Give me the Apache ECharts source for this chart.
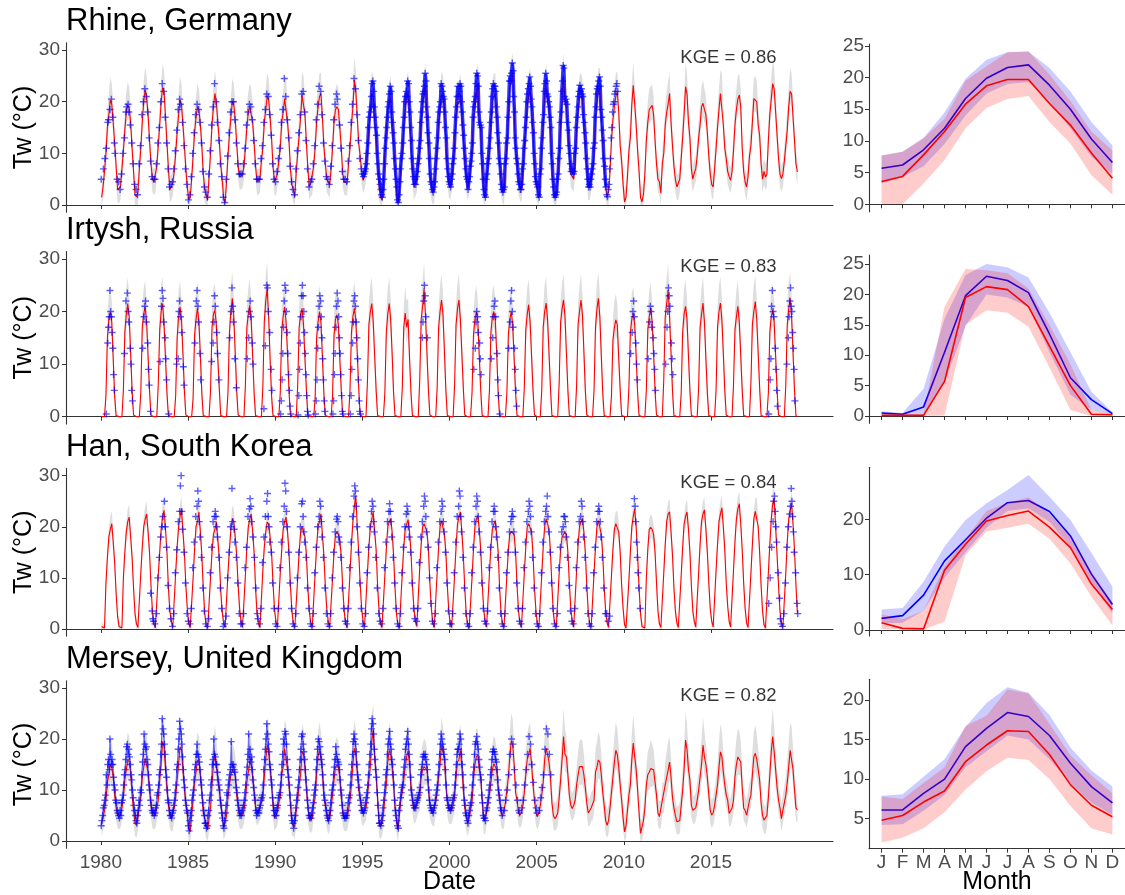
<!DOCTYPE html>
<html><head><meta charset="utf-8">
<script src="https://cdn.jsdelivr.net/npm/echarts@6/dist/echarts.min.js"></script>
<style>html,body{margin:0;padding:0;background:#fff}#c{width:1125px;height:895px}</style>
</head><body><div id="c"></div>
<script>
const startYear = 1980;
const yearTicks = [1980,1985,1990,1995,2000,2005,2010,2015];
const monthLetters = ['J','F','M','A','M','J','J','A','S','O','N','D'];
const rivers = ['Rhine, Germany','Irtysh, Russia','Han, South Korea','Mersey, United Kingdom'];
const kge = ['KGE = 0.86','KGE = 0.83','KGE = 0.84','KGE = 0.82'];

// ---- monthly simulated water temperature (red line), one row per year 1980..2019 ----
const rhineSim = [
[1.5,3.5,6.5,10,15,17.5,20.3,19.5,16,12,7.5,3],[2.9,3.5,7,10.5,14.5,18,19.4,18.8,16,11,6.5,2],
[1.6,2.5,7,11,16,20,22.3,21,17.5,12.5,8,5],[4.5,4.8,7.5,11.5,15.5,20,22.8,22,17,12,7,3],
[3.5,4.3,6.5,10,14,17.5,20.3,19.5,15.5,11.5,7,3.5],[1,1.5,5,9.5,14,17,19,18.5,15.5,11.5,6,3],
[2,1,5.5,10,15.5,19,21.6,20,16,12.5,8,5],[1.5,0.3,4.5,9.5,13.5,17,20,19.5,16.5,12,7.5,5.5],
[5.5,5.8,7.5,11,15,18,19,18.8,16,12,7.5,4.5],[4.5,5,8.5,11,16,18.5,21,20.5,17,13,7.5,4.5],
[4.2,6,8.5,11,16,18,20.6,20.5,16,12.5,7,4],[3,1.6,6.5,10,13.5,17,21.3,21,17.5,12,7,3.5],
[4.2,4.5,7.5,11,16,19,21,21.6,17,11.5,8,5],[4.5,3.9,7,11,16,18.5,19,18.5,15,11,6,4.5],
[4.5,4.2,8,11,15.5,19,24.2,22,17,12,9.5,6.5],[4.8,5.5,7,10.5,15,17.5,21.5,21,16,13.5,8,3.5],
[1.5,1,4.5,10,14,18.5,19.5,21,15,12,7,2.5],[0.3,3,7,10,15,19,20,22,17,11.5,7,3.5],
[4.2,5,7.5,11,16.5,20,21,23.5,16.5,11.5,6,3.5],[2.3,3,7,11,16,18,21.5,21,19,12.5,7,4],
[3.5,5,7.5,12,17,20,19.5,21.5,17.5,13,8.5,5],[3.5,4.5,7,10,16.5,18.5,21.5,23.5,15.5,14.5,7.5,2.9],
[1.6,5,7.5,11,15.5,20,21,21.5,17,11.5,8,4.5],[2.9,2.5,7.5,11.5,17,23,23.5,25.5,18,10.5,8,4.5],
[3.5,2.9,6.5,11,15,19,21,22.5,18.5,14,7.5,4],[3,1.6,5.5,11,15.5,21,23,20,18.5,14.5,7.5,3],
[1.6,2,5,9.5,15,20.5,25,19.5,19,14.5,10,6],[5.5,5,8.5,14.5,18,21,21.2,20.5,15.5,11.5,7,3.5],
[3.5,5,6.5,10,16.5,20,22,22.5,16.5,12,7.5,3.5],[1.6,2.5,6.5,12.5,16.5,19,21,21.9,18,11.5,8.5,4],
[0.6,1.5,5.5,10.5,13,19.5,23.2,19.5,15.5,10.5,6.5,1.5],[0.6,2,6,12.5,16,18.5,18.5,19.3,17.5,12.5,8,5],
[4.5,2.3,8,10,15.5,18,19.5,21.6,16,11.5,7.5,5],[3.5,3.5,5,9,13,17.5,22.9,21.5,16,13,7,5],
[6.2,7,9.5,13,15.5,19,19.7,18.5,17.5,14,9.5,6],[4,3.5,7,11,15,18.5,21.6,21.5,15.5,11,9,6.5],
[5.5,4.8,6.5,10.5,15.5,18.5,20.5,21.3,19,11,6.5,4.5],[3.5,5.5,9.5,11.5,16,20.6,20.5,20,15.5,13.5,8,5],
[6.5,5.4,6,12.5,17.5,20.5,23.5,22.5,18,13.5,9,6],[5.1,6,8.5,11.5,14.5,19,22,21.5,17,12.5,8,6.4]
];
const irtyshSim = [
[0,0,0,4,15,18.5,20,18,11,4,0.2,0],[0,0,0,5,16,19.5,21.5,19,12,5,0.3,0],
[0,0,0,4.5,17,19.5,20.9,18,11.5,5,0.2,0],[0,0,0,6,16.5,20,21.5,17.5,11,4.5,0.2,0],
[0,0,0,4,15,19,20.9,18.5,12,5,0.3,0],[0,0,0,3.5,15.5,18.5,20.6,18,11.5,4.5,0.2,0],
[0,0,0,5,17,19.5,20.3,17.5,11,5.5,0.2,0],[0,0,0,4.5,16,20,22.5,19,12,5,0.3,0],
[0,0,0,6,17,19.5,21.2,18.5,11.5,4.5,0.2,0],[0,0,0,5.5,18,22,24.4,19,11,4,0.2,0],
[0,0,0,4.5,16.5,19,20.9,18,12,5,0.3,0],[0,0,0,6,17,19.5,20.6,17.5,11,5,0.2,0],
[0,0,0,3.5,15,18,20,18,11.5,4.5,0.2,0],[0,0,0,4,15.5,18.5,19.4,17.5,11,5,0.2,0],
[0,0,0,5,16,19,20.6,18.5,12,5.5,0.3,0],[0,0,0,6.5,17.5,20,21.5,18,11.5,5,0.2,0],
[0,0,0,4.5,16,19.5,21.5,18.5,12,4.5,0.2,0],[0,0,0,5.5,17,19.7,17,18.5,11,4.5,0.2,0],
[0,0,0,7,18.5,21,24.4,19,12,5,0.3,0],[0,0,0,5.5,17,20,22.2,19.5,12.5,5,0.2,0],
[0,0,0,6,17.5,20.5,22.2,18.5,12,5.5,0.3,0],[0,0,0,4.5,15.5,18.5,20,18,11.5,5,0.2,0],
[0,0,0,5,16,19,20,18.5,12,4.5,0.2,0],[0,0,0,4.5,15.5,18.5,20,17.5,11,4.5,0.2,0],
[0,0,0,5.5,16.5,19.5,21.3,18,11.5,5,0.3,0],[0,0,0,5,17,20,21.6,18.5,12,5.5,0.2,0],
[0,0,0,6.5,18,20.5,22.2,19,12,5,0.2,0],[0,0,0,6,17.5,20,22.2,19.5,12.5,5,0.3,0],
[0,0,0,5,17,20.5,22.5,19,11.5,4.5,0.2,0],[0,0,0,4,14.5,17,18.4,17.5,11,5,0.2,0],
[0,0,0,5.5,16,18.5,19.7,17.5,11.5,4.5,0.2,0],[0,0,0,5,16.5,19,20.6,18,12,5,0.3,0],
[0,0,0,7,19,21.5,24.1,19,12,5,0.2,0],[0,0,0,4.5,16,19.5,21,18.5,11.5,5,0.2,0],
[0,0,0,5.5,17,19.5,21.6,18,11,4.5,0.2,0],[0,0,0,5,17,20,21.6,18.5,12,5,0.3,0],
[0,0,0,6,16.5,19,21,18,11.5,5,0.2,0],[0,0,0,6.5,17.5,20,21.9,18.5,12,5.5,0.2,0],
[0,0,0,4.5,16,19,20.3,18,11.5,5,0.3,0],[0,0,0,6,17.5,20.5,22.5,19,12,5,0.2,0]
];
const hanSim = [
[0.5,0.3,0.2,9,14,18,19.5,20.6,17,13,7,2.5],[0.5,0.2,0.2,10,15,19,21,21.9,18,14,8,3],
[1,0.3,0.2,11,16,20,21.5,22.5,19,15,8.5,3.5],[1,0.2,0.1,10.5,15,19.5,22,23.2,19.5,15,8,3.5],
[1.5,0.3,0.2,11,16,20,22,23.5,19,15,8.5,4],[1,0.3,0.2,10,15.5,20,21,22.9,19,14.5,8,3],
[0.8,0.2,0.2,10,15,18.5,19.5,20.9,17.5,14,7.5,3.5],[1.2,0.3,0.2,11,15.5,19.5,21.6,21,18,14.5,8.5,4],
[1.5,0.3,0.2,10.5,16,20,21.5,22.5,19,15,8,3],[1,0.3,0.2,11.5,16,19,20.9,20.5,18,15,9,4],
[1.5,0.4,0.3,11,15.5,19.5,21,21.9,19,15,8.5,3.5],[1,0.3,0.2,10,15,19,20,20.3,18,14.5,8,3.5],
[1.2,0.3,0.2,11,16,20,21,22.5,18.5,14.5,8.5,4],[1.5,0.3,0.2,10,15,18.5,19,18.5,17.5,14,8,3.5],
[1,0.2,0.2,11,16.5,21,24,26.1,20,15,9,4],[1.5,0.4,0.3,11,16,20,21.5,22.9,19,15.5,8.5,3.5],
[1,0.3,0.2,10.5,15.5,20,21,21.6,19,14.5,8,3],[0.8,0.2,0.2,11,16,19.5,20.5,21.4,19,15,8.5,4],
[1.5,0.5,0.4,12,16.5,20,20.6,20.5,19,15.5,9,4],[1.2,0.3,0.2,11,16,20,21.2,21,18.5,15,8.5,3.5],
[1,0.3,0.2,10.5,16,20.5,22,22.9,19,14.5,8,3],[0.8,0.2,0.2,10,15.5,20,21.5,22.2,19.5,15.5,9,4],
[1.5,0.4,0.3,11,16,19.5,20.5,21.2,18.5,15,8,3],[1,0.3,0.2,10.5,15.5,18.5,19,19.3,18.5,15,8.5,3.5],
[1.2,0.3,0.2,11,16,20,20.6,20.5,19,14.5,8,3.5],[1,0.2,0.2,10.5,16,20,21.6,21.5,19.5,15,8.5,3],
[1,0.3,0.2,11,15.5,18,18.5,19,18.5,15,9,4],[1.5,0.4,0.3,11.5,16.5,20,21,21.6,19,15,8.5,3.5],
[1,0.3,0.2,11,16,20,21.2,21,18.5,14.5,8,3.5],[1.2,0.3,0.2,10.5,15.5,19.5,20.6,20.5,19,15,8.5,4],
[0.8,0.2,0.2,9.5,15,20,22,23.5,20,14.5,8,3],[0.5,0.2,0.2,10,15.5,19.5,19.9,19.5,18.5,15,9,3.5],
[1,0.3,0.2,11,16.5,21,22.5,22.9,19,14.5,8,3.5],[1.2,0.3,0.2,10.5,16,20.5,22,22.9,19.5,15,8.5,3.5],
[1.5,0.4,0.3,11,16.5,21,22.5,23.3,19.5,15,9,4],[1.5,0.4,0.3,11.5,16.5,21,22.5,23.7,20,15.5,9,4.5],
[1.5,0.4,0.3,11.5,17,21.5,23.5,24.5,20.5,15.5,9,4],[1.2,0.3,0.2,11,16.5,21.5,23,23.3,20,15,8.5,3.5],
[0.8,0.2,0.2,11,16.5,21.5,24.5,25.6,20,14.5,8.5,3.5],[1.2,0.3,0.2,11,17,21.5,23,24.6,20.5,15.5,8.5,3]
];
const merseySim = [
[3.5,4.5,6,8,11.5,13,14.9,14.5,12.5,9,6.5,5],[4.8,5,6.5,8.5,12,14,15.9,15.5,13.5,9,6,3.5],
[3.1,4.5,7,8.5,12.5,14.5,16.2,16,13.5,10,7,5],[4.8,5,6.5,8,12,15,19.5,18.5,14,10,7,5],
[4.4,4.5,6.5,8.5,12,15,18.5,18,14,10,7.5,5],[2.5,1.8,5,8,11.5,13.5,15.9,15.5,13,9.5,5.5,4.5],
[3,2.2,4.5,6.5,11,15,17.2,15,12,10,7.5,5],[2.8,3.5,5,8.5,11,13,13.9,13.5,13,9,6.5,5],
[4.8,5,6,8,11.5,13.5,15.6,15,12.5,9.5,6.5,5.5],[6.1,6.5,7.5,8,12.5,16,18.8,17.5,14.5,11,7,4.5],
[5,5.5,7.5,8.5,13,14.5,18.2,18,14,11,7,3.5],[3.5,2.8,6,8,11,13,17.5,17,14.5,10,6.5,4.5],
[4.1,4.5,7,8.5,13,16.5,17.8,16.5,13.5,8.5,7,5],[3.8,4.5,6.5,9,12,14.5,14.9,14.5,12.5,8.5,5.5,4.5],
[4.4,4.5,6,8,11,15,18.2,17,13.5,10,8.5,6],[5.4,6,6.5,8.5,12,14.5,19.5,21.8,16.5,12.5,8.5,3.5],
[2.8,3.5,5,8.5,11,15.5,17.8,17,14.5,11,6.5,4],[2.2,5,8,9.5,12,14.5,16.5,17.8,15,10,8,6],
[6.1,7,8,8.5,12.5,14,14.6,14.5,14,10,7,6],[5.4,5.5,7.5,9.5,12.5,15,18.8,17.5,16,11,7.5,6],
[5.8,6,7,8.5,12.5,15.5,16,17.8,14.5,10,6.5,4.5],[3.5,4.5,6,7.5,12,15,16.5,16.9,14,12.5,8,4],
[3.8,5.5,7,9,11.5,14,15.2,15,14,10,8,5.5],[4.8,5,7.5,10,12.5,16.5,19.5,19,15,9.5,8,5.5],
[5.1,5.5,7,9.5,13,16,17,18.2,15,11,8,5.5],[4.8,5.5,7,9,11.5,16,18.2,17,15.5,12.5,7.5,5],
[4.4,4.8,5.5,8.5,12,16,20.5,17,16.5,13,9,7],[6.4,7,8,11,13,14.6,14.5,14.6,13,10.5,7.5,5.5],
[5.4,6.5,6.5,8,13.5,14.5,15.9,15.5,13,9.5,7,4],[3.1,4,6.5,9.5,12.5,15.5,17.8,17,14.5,11,8,4.5],
[1.8,3,6,9,11,16,19.2,16.5,14,10,5.5,1.5],[1.2,4,6.5,11,13,13.5,14.2,14,14,11.5,9,5.5],
[4.8,5,8,8,11,12.5,13.9,15.5,12.5,8.5,6.5,5],[3.8,3.8,4,7,10,14,19.8,18,14,12,7,6],
[5.8,6.5,8,10,12.5,15,18.8,16.5,15,12.5,9,6],[5.1,5.5,7,9,11,14.5,17.5,16.5,13.5,11,9,8],
[5.4,5.5,6.5,8,12.5,15,16.5,16.5,15.5,10.5,6.5,6],[5.1,6.5,8,9,13,16.5,17.2,16,14,12,7.5,5],
[4.1,3.8,5,8.5,13,17.5,20.5,17.5,14,10.5,8,6.5],[4.4,6,7.5,9,11.5,14.5,17.8,17.5,14,10,6.5,6.1]
];

// ---- spread of the daily simulations around the monthly value (grey envelope), by month ----
const rhineGreyUp = [2.5,2.5,3,3.5,4,4,4.5,4,3.5,3,2.5,2.5];
const rhineGreyDn = [2.5,2.5,2.5,2.5,2.5,2.5,2.5,2.5,2.5,2.5,2.5,2.5];
const irtyshGreyUp = [0,0,0,1.5,4,5,5,4,3.5,3,0.5,0];
const irtyshGreyDn = [0,0,0,1,3,3,3,3,3,3,0.2,0];
const hanGreyUp = [1,0.5,0.5,2,2,2,2.5,2.5,2,2,2,1.5];
const hanGreyDn = [1,0.3,0.3,2,2,2,2,2,2,2,2,1.5];
const merseyGreyUp = [3,3,3.5,3.5,4.5,5,5.5,5,4,3.5,3,3];
const merseyGreyDn = [2.5,2.5,2.5,2.5,3,3.5,3.5,3.5,3,2.5,2.5,2.5];

// ---- observations (blue +), one row per year from 1980, 24 half-month slots, holes = no data ----
const rhineObs = [
[5,,,7,,9,,11,,16,16.5,,18.5,,20.5,,17,,12,10,,,5,], // 1980
[4.5,,3,,6,,10,,13,,18,19,,19.5,18,,15.5,,12,,8,,4,],
[3,,2,,8,,11.5,,17.5,,20,,22.5,,21,,18,,13,,8.5,,5.5,],
[5,,5,,8,,12,,15,,20,,23.5,,22,,17,,12,,7,,3.5,],
[4,,4.5,,7,,10.5,,14.5,,18.5,,20.5,19.5,,,16,,11.5,,7,,4,],
[1,,2,,5.5,,10,,14,,17.5,,19.5,,18.5,,16,,12,,6.5,,3.5,], // 1985
[2.5,,1.5,,6,,10.5,,15.5,,19,,23.5,,20,,16,,12.5,,8,,5.5,],
[1.5,,0.5,,5,,9.5,,14,,18,,20,,20,,16.5,,12,,8,,6,],
[6,,6,,8,,11,,15.5,,18,,19.5,,19,,16.5,,12.5,,8,,5,],
[5,,5,,9,,11.5,,16,,18.5,,21.5,,21,,17.5,,13.5,,8,,5,],
[4.5,,6.5,,9,,11,,16,,18.5,,24.5,,21,,16.5,,13,,7.5,,4.5,], // 1990
[3,,2,,7,,10.5,,14,,17.5,,21.5,,22,,18,,12.5,,7,,3.5,],
[4.5,,5,,8,,11.5,,16.5,,19.5,,23,,22,,17.5,,12,,8.5,,5.5,],
[5,,4,,7.5,,11.5,,16.5,,19.5,,21.5,20.5,,,15.5,,11,,6.5,,5,],
[5,,4.5,,8.5,,11.5,,16,,19.5,,24.5,,22.5,,17.5,,12.5,,9,,7,],
[6,5.5,6,6.5,7,8,10,12,15,17,18,19,21,23.5,24,22,19,17,15,13.5,10,8,6,5], // 1995
[4,3,2,1.5,3,5,8,11,13,15,17,19,20,21.5,23,22,18,16,14,12,9,7,5,3.5],
[1,0.5,2,4.5,7,9,10,12,15,17,20,21,22,21,24,23.5,20,18,15,12.5,9,7,5.5,4],
[5,4,5.5,6.5,8,9,11,12.5,16,18,20,21.5,22,23,25.5,24,19,17,14,12,9,6,4.5,4],
[3,2.5,3.5,4.5,7,9,11,13,16,18,19,20,23.5,23,22,21,20.5,18,15,13,9,7,5.5,4.5],
[4,3.5,5,6,8,9,11,14,17,19,21,23,21,22,23.5,23,20,18,15.5,13.5,11,9,7,5.5], // 2000
[5,3,4.5,5.5,7.5,8.5,10,12,17,19,20,21,23.5,25.5,25,23,18,16,15.5,15,10,8,5,3],
[2,1.5,5,6,8,9,11,13,16,18,21,22.5,23.5,23,23,22,19,17,14,12,9,8,6,4],
[3,2.5,3,3.5,8,9,12,13,17,20,24,25,24,25.5,27.5,26,21,18,13,11,9,8,6,4.5],
[4,3,3,4,7,8,11,12.5,15,17,20,21.5,22.5,23.5,24.8,23,20.5,19,16,14,10,8,5.5,4.5],
[4,3.5,2,1.5,6,7,11,13,16,17.5,22,23.5,25.5,24,21.5,21,20,19,17,15,10,8,5,3.5], // 2005
[2,1.5,2,2.5,5,6,9,11,16,18,22,24,27,26.5,21,20,20.5,19.5,16,14.5,11.5,10,8,6.5],
[7,6.5,6,6.5,10,11,15,17,19,21,22,23.2,22,22.5,21.5,21,17.5,16,14,12,9,7,5,3.5],
[4,3.5,5,6,7,8,11,12,17,19,21.5,22.5,23,24,24.8,23,18.5,17,14.5,12.5,9,7.5,5,3.5],
[2,1.6,3,4,7,9,13,15,18,19.5,20,21.5,22,23,23.5,22] // 2009
];
const irtyshObs = [
[,,,,,,,0.5,,14,17,19,24,20,19,16,13,8,5], // 1980
[,,,,,,,,12,,22,,23.5,20,18,,13,10,5,3],
[,,,,,,,,,13,,19,21,22,18,,14,9,6,,1],
[,,,,,,,,,10.5,,21,24,22.5,18,,15,11,7,,,0.5],
[,,,,,,,,10,,11,20,22,19,,16,,9.5,6],
[,,,,,,,,,14,,22,24,21,18,,12,7], // 1985
[,,,,,,,,10.5,,14,18,23,21,,16,12,,7],
[,,,,,,,,,15,,20,24.5,21,18,,11,,5.5],
[,,,,,,,,,11,,15,20,22,19,,14,10],
[,,,,,,,,1.5,,13.5,,25,24.5,20,,16,,9,5],
[,,,,,,,0.5,3,7,12,17,22,25,24,20,16,12,8,5,2,0.5], // 1990
[,,,,,,,0.3,4,9,14,19,23,25,23,20,16,12,8,4,1,0.3],
[,,,,,,,0.5,3,7,13,17,21,23,22,19,15,11,7,3,1],
[,,,,,,,0.5,3,8,12,17,21,23.5,22,19,15,12,8,4,1,0.5],
[,,,,,,,0.5,4,9,14,18,22,23,21,18,15,11,7,3,1,0.5],
[],[],[], // 1995-1997
[,,,,,,,,,,15,18,22,25,23,19,,15], // 1998
[],[], // 1999-2000
[,,,,,,,,,9,,13,18,20,19,16,,14,11,8], // 2001
[,,,,,,,,,11,,15,19,21,22,19,,12,7,4,,0.5],
[,,,,,,,,,13,,18,22,24,20,17,,13,9,5,2],
[],[],[],[],[],[], // 2004-2009
[,,,,,,,,,12,,16,20,22,19,,14,10,7], // 2010
[,,,,,,,,,11,,18,21,20,17,,15,12,9,5],
[,,,,,,,,,10,,17,20,24.5,23,21,,14,11,8],
[],[],[],[],[], // 2013-2017
[,,,,,,,0.5,,7,11,21,24,20,19,,13,9,5,2], // 2018
[,,,,,,,,10,,15,19,22,24.5,21,20,16,13,9,3]
];
const hanObs = [
[],[], // 1980-1981
[,,,,,,,,,,,,,,,,,,,,7,,3.5,2], // 1982
[1.5,,1,,3,,10,,14,,18,,20,22,,25,20,,16,,8.5,,4,],
[2,,0.5,,3,,11,,15.5,,21,,23,28,30,23,19.5,,15,,9,,3,],
[1.5,,1,,4,,12,,17,,22,,24,27,25,21,18,,14,,8,,3.5,], // 1985
[1,,0.5,,2,,11,,16,,21,,22,23,22,20,18,,14,,8,,4,],
[0.5,,1,,2.5,,10,,15,,20,,27.5,21,,19.5,17,,14,,9,,3,],
[1,,1,,3,,12,,16,,22,,23.5,25.5,24,21,,18,,14,,8,,3],
[2,,1,,4,,13,,18,,22,,25,26.5,22,20,17,,15,,9,,4,],
[1,,0.5,,4,,12,,17,,21,,24,28.5,27,23,20,,15,,9,,4,], // 1990
[1,,0.5,,3,,10,,15,,20,,24.5,25,22,19,17,,14,,8,,4,],
[1,,0.5,,3,,11,,16,,20,,22,25,24,21,18,,14,,8,,3,],
[1,,0.5,,3,,10,,15,,19,,21.5,22,21,18,17,,14,,8,,4,],
[1.5,,1,,4,,12,,17,,22,,26,28,27,24,20,,15,,9,,4,],
[1,,0.5,,3,,11,,16,,20,,23,25,24,21,19,,14,,8,,3,], // 1995
[1.5,,1,,4,,12,,17,,21,,23,24.5,23,21,18,,14,,9,,4,],
[1,,0.5,,3,,11,,16,,20,,22.5,24,23,20,18,,15,,9,,4,],
[2,,1.5,,4,,13,,18,,21,,24,26,25,22,19,,16,,10,,5,],
[1.5,,1,,3,,12,,17,,21,,23,25,24,21,19,,15,,9,,3.5,],
[1,,1,,3,,11,,17,,22,,24,27,26,22,19,,14,,8,,3,], // 2000
[1,,0.5,,3,,11,,16,,21,,24,26,25,22,19,,15,,9,,4,],
[1.5,,1,,3.5,,12,,16,,21,,23,24,23,20,18,,14,,8,,3,],
[1,,0.5,,3,,11,,15,,19,,21,22,23,22,19,,15,,9,,4,],
[1.5,,1,,4,,12,,17,,21,,23,25,24,22,19,,14,,8,,3,],
[1,,0.5,,3,,11,,17,,21,,23,24,26,22,19,,15,,9,,4,], // 2005
[1,,0.5,,3,,12,,16,,19,,20,22,22,21,18,,14,,8.5,,3.5,],
[1.5,,1,,4,,12,,17,,21,,22,25,24,21,18,,14,,8,,3,],
[1,,0.5,,3,,11,,16,,21,,23,24,23,21,18,,14,,8,,3,],
[3,,1.5,,2.5],
[,,,,,,,,,,,,,,25.5,24,21,17,14,11,8,,4,], // 2010
[],[],[],[],[],[],[], // 2011-2017
[,,,,,,,5,,10,,16,,21,25,26,23,20,17,,11,,6,2], // 2018
[1,,0.5,,3,,9,,16,,20,,22.5,24,27.5,25,22,19,15,,11,,5,3]
];
const merseyObs = [
[3,4,5,6.5,7,8,9,13,11,15,16,14,20,17,15,16,15,12.5,11,10,8,7.5,6,5.5], // 1980
[5,4.5,6,5,7.5,8,9,11,13,14,16,18.5,19,17,18,16.5,15,13,12,10,8.5,7,6,5],
[4,3.5,5,6,8,7,10,9.5,13,15.5,17,21,19,18,18.5,16,15,13,11,10,8,7,6,5.5],
[6,5,5.5,6.5,7,9,9.5,11,13,14,17,19,24,22,21,19,17,14,12.5,10,8,7.5,6,5],
[5,4.5,5.5,6,7,8,9.5,11,14,15,18,20,23.5,22,21,19,16.5,14,12,10.5,8,7,6,5.5],
[3,2,4,5,6,8,9,10,12,14,15,17,19,17,16.5,15.5,14,12,11,9,7.5,6,5,3.5], // 1985
[3.5,2.5,3,5,6,8,9,11,12,15,16,20,17,16.5,15,15,13.5,12,11,10,8,7,5.5,4.5],
[3,2.5,4,5.5,7,9.5,9,11,12,13,14,19.5,15,14.5,15,14,13.5,12,10.5,9.5,8,7,6,5],
[5.5,5,6,6.5,7,8,9.5,11,13,14.5,17,21,16,18,15.5,16.5,14,12,10.5,9,8,6,5,5.5],
[6,5.5,6.5,7,8,8.5,9,11,14,16,18,20,23,21,19,17.5,15,14,12,11,8.5,7,6,5],
[6,5,6.5,7,8.5,9,9.5,11,13,15,17,20,19,21.5,21,19,16,14,12.5,11,9,7,5,4], // 1990
[3.5,2.5,4,5,6.5,8,9,10.5,12,14,16,18,20.5,21,19,17.5,16,14,12,10,8,6.5,5,4.5],
[5,4.5,5.5,6.5,7.5,9,10,11,14,16,18,20,19.5,18.5,17,16,15,13,11,9,8,7,6,5],
[4.5,4,5,6,7.5,9,10,11,13,14.5,16,18.5,17,16,15.5,15,14,12,10,9,7,5.5,5,4.5],
[5,4.5,5,6,7.5,8.5,9,11,13,15,17,19.5,21,20,19,17.5,15,13,12,10.5,9,8,7,6],
[6,5.5,6,6.5,7.5,8.5,9.5,11,13,15,17,19,22,24,23,21,18,16,14,12.5,9.5,7,5,3.5], // 1995
[3.5,3,4,5,6.5,8,9.5,11,13,14,17,19,20,21.5,19,18,16,15,13,11,8,6,5,4],
[3,2.5,6,7,8.5,9.5,10.5,11,13,14.5,16,18,19,20,21.5,19,17,15,12.5,10,9,8,7,6.5],
[7,6.5,7.5,8,8.5,9,9.5,10.5,13,14,15,16.5,17,16.5,17,16,15,14,12,10,8,7,6.5,6],
[6,5.5,6.5,7,8,9,10,11,13,15,17,19,21,20,19,18,17,16,14,11,8.5,8,7,6.5],
[6.5,6,6.5,7,8,8.5,9,11,13,15,17,18,18,19,21,20,17,15,13,10.5,8,7,5.5,5], // 2000
[4,3.5,5,6,7,7.5,9,11,13,14.5,17,19,19.5,20.5,19,18,16,14.5,13,12,9,7.5,5,4.5],
[4.5,4,6,6.5,7.5,8.5,10,11,13,14,16,17.5,18,17.5,17,16,15.5,14,12,10,9,8,6.5,6],
[5,,,6,,8,,10,,13,,17,,20,,19,,14,,11,,8,,6],
[5.5,,,6.5,,8,,11,,14,,17,,20.5,,19,,15,,11.5,,8,,6.5],
[5.5,,,6,,8.5,,10.5,,13,,18,,22,,21,,17,,13] // 2005
];
// width of the trace joining complete daily records (0 = none)
const denseWidth = [3.5, 0, 0, 1.2];
const denseColor = ['rgba(0,0,255,0.8)', '', '', 'rgba(0,0,255,0.55)'];

// ---- monthly climatology panels (right): observed (blue) and simulated (red) ----
const rhineObsMean = [5.7,6.2,8.6,12.0,16.7,19.9,21.6,22.0,18.8,15.0,10.3,6.6];
const rhineObsLo   = [3.3,4.3,6.0,9.5,14.0,17.5,19.0,19.3,16.0,12.0,7.5,4.8];
const rhineObsHi   = [7.7,8.3,10.5,14.5,19.8,22.8,24.0,24.1,21.5,17.8,13.0,9.3];
const rhineSimMean = [3.6,4.4,7.8,11.5,15.8,18.7,19.7,19.7,15.9,12.5,8.1,4.1];
const rhineSimLo   = [0.0,0.0,3.3,7.0,12.0,15.2,16.6,17.1,13.0,9.6,4.6,1.5];
const rhineSimHi   = [7.7,8.3,10.4,13.5,19.5,21.8,24.0,24.1,20.5,16.3,11.5,8.5];
const irtyshObsMean = [0.5,0.3,1.5,10.5,19.8,23.0,22.3,20.3,13.5,6.3,2.7,0.4];
const irtyshObsLo   = [0.2,0.1,0.1,5.5,14.8,20.0,19.5,18.0,10.5,3.5,1.0,0.2];
const irtyshObsHi   = [0.8,0.5,4.5,16.0,23.2,25.0,24.5,22.8,17.0,10.5,4.0,0.6];
const irtyshSimMean = [0.1,0.1,0.1,5.7,19.5,21.3,20.8,18.0,11.5,5.0,0.3,0.2];
const irtyshSimLo   = [0,0,0,0.1,15.0,17.4,17.0,14.7,8.0,1.0,0,0];
const irtyshSimHi   = [0.3,0.3,0.3,18.0,24.2,24.0,23.5,21.0,15.0,8.5,1.0,0.3];
const hanObsMean = [2.1,2.6,6.3,12.5,16.3,20.2,23.0,23.4,21.4,17.0,10.1,4.6];
const hanObsLo   = [1.2,1.3,3.5,9.5,14.0,18.5,21.5,22.0,19.5,15.0,8.5,3.0];
const hanObsHi   = [3.7,4.0,8.7,15.1,19.9,22.9,25.3,28.0,24.1,19.9,13.9,7.8];
const hanSimMean = [1.3,0.3,0.2,10.8,15.5,19.7,20.7,21.5,18.6,14.9,8.3,3.7];
const hanSimLo   = [0.2,0.1,0.1,1.5,13.5,17.8,18.5,19.2,16.5,12.0,6.0,0.8];
const hanSimHi   = [2.8,2.0,3.5,11.5,16.5,21.5,23.0,24.0,21.0,17.0,10.5,5.0];
const merseyObsMean = [6.1,6.1,8.2,10.0,14.1,16.4,18.4,17.9,15.5,12.0,9.05,7.0];
const merseyObsLo   = [4.2,4.3,6.0,8.0,11.5,13.5,15.5,15.0,12.5,9.5,7.0,5.5];
const merseyObsHi   = [7.9,8.1,10.3,12.5,16.6,19.6,21.6,20.9,18.1,14.0,11.1,9.05];
const merseySimMean = [4.8,5.4,7.1,8.5,12.2,14.3,16.1,16.0,13.1,9.3,6.7,5.25];
const merseySimLo   = [2.0,2.6,3.8,5.8,8.7,11.0,12.7,12.4,10.0,6.6,3.8,3.0];
const merseySimHi   = [7.8,7.5,9.5,11.5,16.7,18.0,21.3,20.8,17.0,13.0,10.5,8.2];

const leftTicks = [0,10,20,30];
const rightTicks = [[0,5,10,15,20,25],[0,5,10,15,20,25],[0,10,20],[5,10,15,20]];

// ---------------- build ----------------
const FONT = '"Liberation Sans", Arial, sans-serif';
const sims = [rhineSim, irtyshSim, hanSim, merseySim];
const greyUp = [rhineGreyUp, irtyshGreyUp, hanGreyUp, merseyGreyUp];
const greyDn = [rhineGreyDn, irtyshGreyDn, hanGreyDn, merseyGreyDn];
const obs = [rhineObs, irtyshObs, hanObs, merseyObs];
const clim = [
  [rhineObsMean, rhineObsLo, rhineObsHi, rhineSimMean, rhineSimLo, rhineSimHi],
  [irtyshObsMean, irtyshObsLo, irtyshObsHi, irtyshSimMean, irtyshSimLo, irtyshSimHi],
  [hanObsMean, hanObsLo, hanObsHi, hanSimMean, hanSimLo, hanSimHi],
  [merseyObsMean, merseyObsLo, merseyObsHi, merseySimMean, merseySimLo, merseySimHi]
];
const leftTop = [42.8, 251.6, 468.5, 680.9];
const leftH = [169.5, 172.4, 167.6, 167.3];
const rightTop = [44, 255, 467.3, 679.3];
const rightH = [167.7, 168.3, 168.7, 169.4];
const rightMin = [-1.17, -1.2, -1.08, 1.21];
const rightMax = [25.3, 26.5, 29.4, 22.6];

const grids = [], xAxes = [], yAxes = [], series = [], graphics = [];
const axisLineStyle = {color:'#333', width:1.1};
const tickStyle = {color:'#333', width:1};
const PLUS = 'path://M4,0h2v4h4v2h-4v4h-2v-4h-4v-2h4z';

function band(idx, upper, lower, color, z){
  return {type:'custom', xAxisIndex:idx, yAxisIndex:idx, z:z, silent:true, clip:false,
    data:[[upper[0][0], upper[0][1]]],
    renderItem:function(params, api){
      const pts = upper.map(p=>api.coord(p)).concat(lower.slice().reverse().map(p=>api.coord(p)));
      return {type:'polygon', shape:{points:pts}, style:{fill:color}};
    }};
}

for (let r=0;r<4;r++){
  const li = r*2, ri = r*2+1;
  const last = r===3;
  grids.push({left:66, width:767, top:leftTop[r], height:leftH[r]});
  grids.push({left:869, width:256, top:rightTop[r], height:rightH[r]});
  xAxes.push({type:'value', gridIndex:li, min:1978, max:2022, splitLine:{show:false},
    axisLine:{show:true, lineStyle:axisLineStyle},
    axisTick:{show:true, length:4, lineStyle:tickStyle, customValues:yearTicks},
    axisLabel:{show:last, customValues:yearTicks, color:'#4d4d4d', fontSize:19, fontFamily:FONT, margin:5, formatter:v=>String(v)}});
  yAxes.push({type:'value', gridIndex:li, min:-1.4, max:31.4, splitLine:{show:false},
    axisLine:{show:true, lineStyle:axisLineStyle},
    axisTick:{show:true, length:4, lineStyle:tickStyle, customValues:leftTicks},
    axisLabel:{customValues:leftTicks, color:'#4d4d4d', fontSize:19, fontFamily:FONT, margin:6}});
  const mTicks = [1,2,3,4,5,6,7,8,9,10,11,12];
  xAxes.push({type:'value', gridIndex:ri, min:0.4, max:12.6, splitLine:{show:false},
    axisLine:{show:true, lineStyle:axisLineStyle},
    axisTick:{show:true, length:4, lineStyle:tickStyle, customValues:mTicks},
    axisLabel:{show:last, customValues:mTicks, color:'#4d4d4d', fontSize:19, fontFamily:FONT, margin:5, formatter:v=>monthLetters[Math.round(v)-1]}});
  yAxes.push({type:'value', gridIndex:ri, min:rightMin[r], max:rightMax[r], splitLine:{show:false},
    axisLine:{show:true, lineStyle:axisLineStyle},
    axisTick:{show:true, length:4, lineStyle:tickStyle, customValues:rightTicks[r]},
    axisLabel:{customValues:rightTicks[r], color:'#4d4d4d', fontSize:19, fontFamily:FONT, margin:5}});

  const simPts = [], gUp = [], gLo = [];
  sims[r].forEach((row,k)=>row.forEach((v,m)=>{
    const x = startYear + k + (m+0.5)/12;
    simPts.push([x, v]);
    gUp.push([x, v + greyUp[r][m]]);
    gLo.push([x, Math.max(0, v - greyDn[r][m])]);
  }));
  const obsPts = [], densePts = [];
  obs[r].forEach((row,k)=>{
    let n = 0;
    for(let i=0;i<row.length;i++){ if(row[i]!=null){ n++; obsPts.push([startYear + k + (i+0.5)/24, row[i]]); } }
    if (denseWidth[r] > 0 && n===24){
      for(let i=0;i<24;i++) densePts.push([startYear + k + (i+0.5)/24, row[i]]);
    } else if (densePts.length && densePts[densePts.length-1][1] !== '-') {
      densePts.push([startYear + k, '-']);
    }
  });

  series.push(band(li, gUp, gLo, 'rgba(128,128,128,0.26)', 1));
  series.push({type:'line', xAxisIndex:li, yAxisIndex:li, z:2, data:simPts, symbol:'none', silent:true,
    lineStyle:{color:'#ff0000', width:1.1}});
  if (densePts.length){
    series.push({type:'line', xAxisIndex:li, yAxisIndex:li, z:3, data:densePts, symbol:'none', silent:true,
      connectNulls:false, lineStyle:{color:denseColor[r], width:denseWidth[r]}});
  }
  series.push({type:'scatter', xAxisIndex:li, yAxisIndex:li, z:3, data:obsPts, silent:true,
    symbol:PLUS, symbolSize:7, itemStyle:{color:'rgba(0,0,255,0.8)'}});
  series.push({type:'scatter', xAxisIndex:li, yAxisIndex:li, z:4, silent:true, symbolSize:0,
    data:[[2016, 28.5]],
    label:{show:true, position:'inside', formatter:kge[r], color:'#000', fontSize:18.5, fontFamily:FONT}});

  const c = clim[r];
  const pts = a => a.map((v,m)=>[m+1, v]);
  series.push(band(ri, pts(c[2]), pts(c[1]), 'rgba(0,0,255,0.2)', 1));
  series.push({type:'line', xAxisIndex:ri, yAxisIndex:ri, z:2, data:pts(c[0]), symbol:'none', silent:true,
    lineStyle:{color:'#0000ff', width:1.6}});
  series.push(band(ri, pts(c[5]), pts(c[4]), 'rgba(255,0,0,0.2)', 3));
  series.push({type:'line', xAxisIndex:ri, yAxisIndex:ri, z:4, data:pts(c[3]), symbol:'none', silent:true,
    lineStyle:{color:'#ff0000', width:1.6}});

  graphics.push({type:'text', left:66, top:leftTop[r]-37, silent:true,
    style:{text:rivers[r], fill:'#000', font:'31px '+FONT}});
  graphics.push({type:'text', x:24, y:leftTop[r]+leftH[r]/2, rotation:Math.PI/2, silent:true,
    style:{text:'Tw (°C)', fill:'#000', font:'25px '+FONT, textAlign:'center', textVerticalAlign:'middle'}});
}
graphics.push({type:'text', x:449.5, y:882, silent:true,
  style:{text:'Date', fill:'#000', font:'25px '+FONT, textAlign:'center', textVerticalAlign:'middle'}});
graphics.push({type:'text', x:997, y:882, silent:true,
  style:{text:'Month', fill:'#000', font:'25px '+FONT, textAlign:'center', textVerticalAlign:'middle'}});

const chart = echarts.init(document.getElementById('c'), null, {renderer:'canvas'});
chart.setOption({
  animation:false, backgroundColor:'#fff',
  grid:grids, xAxis:xAxes, yAxis:yAxes, series:series, graphic:graphics
});
</script>
</body></html>
